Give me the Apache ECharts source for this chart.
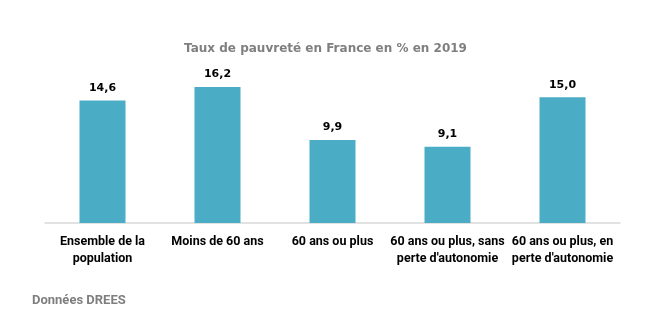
<!DOCTYPE html>
<html><head><meta charset="utf-8">
<script src="https://cdn.jsdelivr.net/npm/echarts@6/dist/echarts.min.js"></script>
<style>html,body{margin:0;padding:0;background:#fff}#c{width:651px;height:325px}</style>
</head><body><div id="c"></div>
<script>
const categories = ["Ensemble de la\npopulation", "Moins de 60 ans", "60 ans ou plus", "60 ans ou plus, sans\nperte d'autonomie", "60 ans ou plus, en\nperte d'autonomie"];
const values = [14.6, 16.2, 9.9, 9.1, 15.0];
const chart = echarts.init(document.getElementById('c'));
chart.setOption({
  animation: false,
  title: [{
    text: 'Taux de pauvreté en France en % en 2019',
    left: 'center', top: 38,
    textStyle: {fontFamily: 'DejaVu Sans', fontWeight: 'bold', fontSize: 12, color: '#7f7f7f'}
  }, {
    text: 'Données DREES',
    left: 27, top: 289,
    textStyle: {fontFamily: "'Liberation Sans Narrow', Roboto", fontWeight: 'bold', fontSize: 13, color: '#7f7f7f'}
  }],
  grid: {left: 45, right: 31, top: 72, bottom: 102},
  xAxis: {
    type: 'category', data: categories,
    axisLine: {lineStyle: {color: '#d9d9d9', width: 1.5}},
    axisTick: {show: false},
    axisLabel: {interval: 0, margin: 10, lineHeight: 17, fontFamily: "'Liberation Sans Narrow', Roboto", fontWeight: 'bold', fontSize: 12.5, color: '#000'}
  },
  yAxis: {type: 'value', min: 0, max: 18, show: false, splitLine: {show: false}},
  series: [{
    type: 'bar', data: values, barWidth: '40%',
    itemStyle: {color: '#4BACC6'},
    label: {show: true, position: 'top', distance: 7, fontFamily: 'DejaVu Sans', fontWeight: 'bold', fontSize: 11, color: '#000',
      formatter: p => p.value.toFixed(1).replace('.', ',')}
  }]
});
</script></body></html>
